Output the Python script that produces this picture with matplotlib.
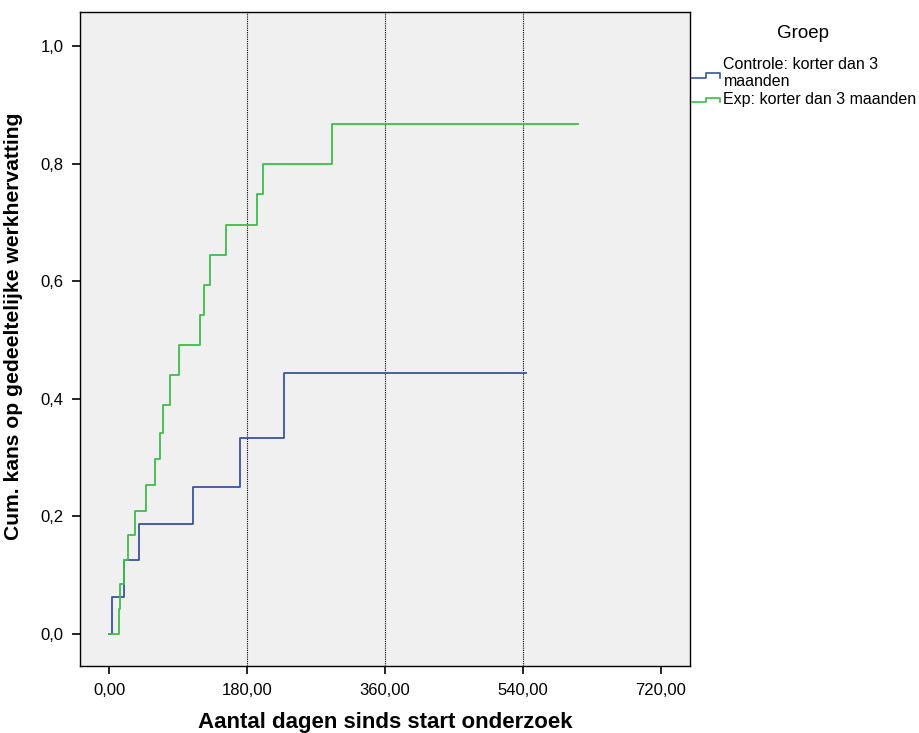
import matplotlib.pyplot as plt
from matplotlib.legend_handler import HandlerBase
from matplotlib.lines import Line2D
from matplotlib.ticker import FuncFormatter

plt.rcParams['font.family'] = ['Liberation Sans', 'DejaVu Sans']

# Kaplan-Meier style cumulative curves
control_days = [0, 4, 19, 39, 110, 171, 228, 544]
control_cum = [0.0, 0.0625, 0.125, 0.1875, 0.25, 0.333, 0.444, 0.444]

exp_days = [0, 12.6, 13.5, 19, 24, 34, 48, 60, 67, 70, 80, 91, 119, 124, 131,
            153, 193, 201, 291, 612]
exp_cum = [0.0, 0.0425, 0.085, 0.126, 0.168, 0.209, 0.253, 0.298, 0.342, 0.389,
           0.44, 0.491, 0.5425, 0.593, 0.6445, 0.6956, 0.748, 0.799, 0.867, 0.867]

ref_days = [180, 360, 540]
x_ticks = [0, 180, 360, 540, 720]
y_ticks = [0.0, 0.2, 0.4, 0.6, 0.8, 1.0]

blue = '#3a53a4'
green = '#3dbd4a'


class StepHandler(HandlerBase):
    # small step-shaped glyph like the SPSS legend
    def create_artists(self, legend, orig_handle, xdescent, ydescent,
                       width, height, fontsize, trans):
        lo, hi = height * 0.15, height * 0.55
        mid = width * 0.5
        ln = Line2D([-xdescent, mid, mid, width, width],
                    [lo, lo, hi, hi, lo],
                    color=orig_handle.get_color(), lw=1.2, transform=trans)
        return [ln]


fig = plt.figure(figsize=(9.2, 7.33), dpi=100)
ax = fig.add_axes([0.087, 0.0914, 0.663, 0.8922])
ax.set_facecolor('#f0f0f0')

for d in ref_days:
    ax.axvline(d, color='black', lw=0.8, ls=(0, (1, 1)), zorder=1)

h1, = ax.step(control_days, control_cum, where='post', color=blue, lw=1.3,
              zorder=3)
h2, = ax.step(exp_days, exp_cum, where='post', color=green, lw=1.3, zorder=3)

ax.set_xlim(-38, 758)
ax.set_ylim(-0.055, 1.058)
ax.set_xticks(x_ticks)
ax.set_yticks(y_ticks)
ax.xaxis.set_major_formatter(FuncFormatter(lambda v, p: f'{v:.2f}'.replace('.', ',')))
ax.yaxis.set_major_formatter(FuncFormatter(lambda v, p: f'{v:.1f}'.replace('.', ',')))
ax.tick_params(direction='out', length=6, width=1.2, labelsize=12, pad=6)
for s in ax.spines.values():
    s.set_linewidth(1.0)

ax.set_xlabel('Aantal dagen sinds start onderzoek', fontsize=16,
              fontweight='bold', labelpad=10)
ax.set_ylabel('Cum. kans op gedeeltelijke werkhervatting', fontsize=15.2,
              fontweight='bold')
ax.yaxis.set_label_coords(-0.093, 0.52)

fig.text(0.873, 1 - 33 / 733, 'Groep', fontsize=13.5, ha='center', va='center')
leg = fig.legend([h1, h2], ['Controle: korter dan 3\nmaanden',
                            'Exp: korter dan 3 maanden'],
                 loc='upper left', bbox_to_anchor=(0.743, 0.933),
                 frameon=False, borderpad=0, fontsize=11.5, handlelength=1.8,
                 handletextpad=0.2, labelspacing=0.15,
                 handler_map={Line2D: StepHandler()})

fig.savefig('out.png', dpi=100)
